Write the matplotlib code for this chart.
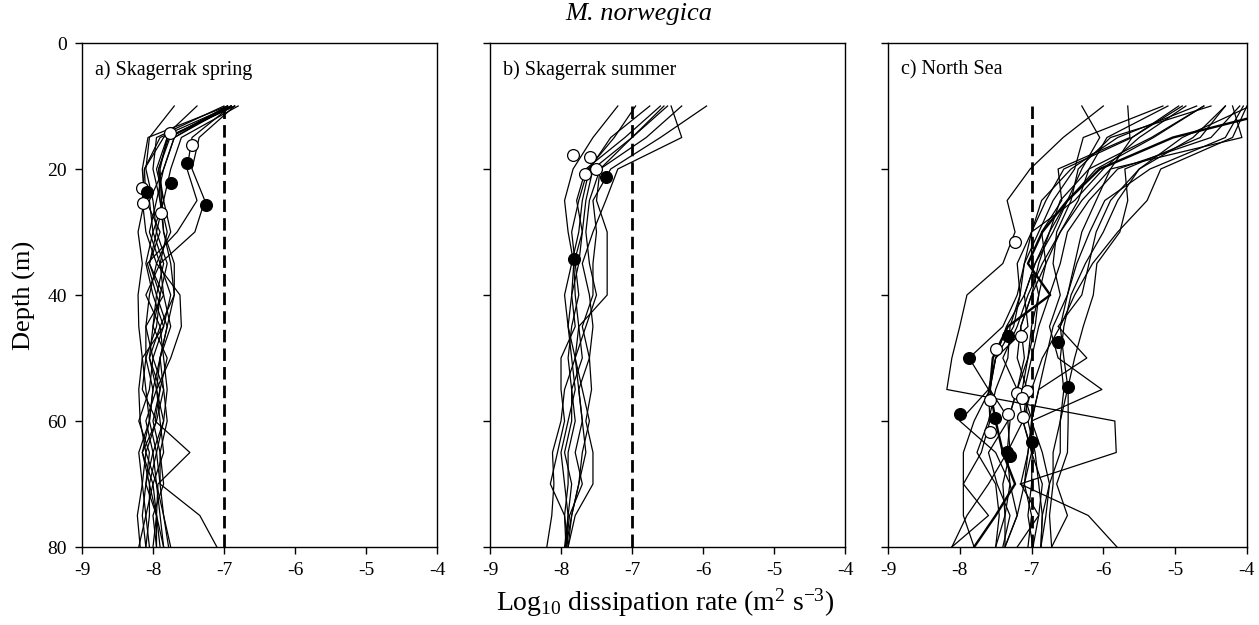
import matplotlib
matplotlib.use("Agg")
import matplotlib.pyplot as plt

plt.rcParams.update(
    {
        "font.family": ["Liberation Serif", "DejaVu Serif"],
        "mathtext.fontset": "custom",
        "mathtext.rm": "Liberation Serif",
        "mathtext.it": "Liberation Serif:italic",
        "axes.unicode_minus": False,
        "axes.linewidth": 1.0,
        "xtick.direction": "out",
        "ytick.direction": "out",
    }
)

# depth levels of each profile (m)
depth = [10, 15, 20, 25, 30, 35, 40, 45, 50, 55, 60, 65, 70, 75, 80]

# a) Skagerrak spring, log10 dissipation rate per profile
spring_profiles = [
    [-6.95, -8.07, -8.15, -8.12, -8.21, -8.15, -8.21, -8.20, -8.15, -8.20, -8.18, -8.10, -8.15, -8.22, -8.18],
    [-7.70, -8.05, -8.10, -8.00, -7.95, -8.05, -7.90, -7.95, -8.10, -8.00, -8.05, -8.15, -8.00, -8.10, -8.05],
    [-6.90, -7.80, -7.95, -7.85, -8.00, -7.85, -7.95, -7.80, -7.90, -7.95, -7.85, -7.95, -8.05, -7.95, -7.95],
    [-6.85, -7.78, -7.92, -7.90, -7.80, -7.90, -7.75, -7.85, -8.00, -7.85, -7.95, -8.10, -7.95, -7.90, -7.85],
    [-6.95, -7.76, -7.92, -7.85, -7.75, -7.95, -7.62, -7.60, -7.75, -7.95, -7.90, -7.85, -8.00, -7.95, -7.90],
    [-6.90, -7.45, -7.52, -7.38, -7.66, -8.08, -7.95, -8.00, -8.05, -7.90, -7.97, -7.48, -7.93, -7.95, -7.85],
    [-6.85, -7.35, -7.45, -7.27, -7.41, -7.90, -7.85, -7.75, -7.90, -8.00, -8.05, -7.95, -7.90, -7.34, -7.10],
    [-7.38, -7.85, -8.12, -8.15, -8.10, -7.95, -8.05, -8.10, -8.00, -8.05, -8.20, -8.05, -8.10, -8.15, -8.10],
    [-6.80, -7.60, -7.75, -7.85, -7.95, -7.80, -7.90, -8.00, -7.80, -7.90, -8.00, -7.90, -7.85, -8.00, -7.95],
    [-6.95, -7.70, -7.85, -7.95, -8.05, -7.90, -8.10, -7.90, -8.05, -7.95, -8.10, -8.00, -8.10, -7.95, -8.00],
    [-6.90, -7.90, -8.12, -8.10, -7.90, -8.05, -7.85, -8.10, -8.10, -8.15, -7.95, -8.15, -8.05, -8.05, -8.10],
    [-7.00, -7.95, -8.00, -7.90, -7.85, -7.70, -7.70, -7.90, -7.85, -7.80, -7.85, -8.00, -7.95, -7.85, -7.75],
    [-6.90, -7.70, -7.85, -8.05, -8.00, -8.10, -8.00, -7.85, -8.15, -8.10, -8.05, -8.20, -8.15, -8.10, -8.20],
    [-6.85, -7.80, -7.90, -7.88, -7.85, -7.75, -7.70, -7.80, -7.90, -7.85, -7.80, -7.90, -7.90, -7.85, -7.78],
]
spring_open_x = [-7.76, -7.45, -8.15, -8.14, -7.89]
spring_open_depth = [14.3, 16.2, 23.0, 25.4, 27.0]
spring_filled_x = [-7.52, -7.75, -8.08, -7.25]
spring_filled_depth = [19.0, 22.2, 23.7, 25.7]

# b) Skagerrak summer
summer_profiles = [
    [-7.20, -7.55, -7.83, -7.95, -7.90, -7.82, -7.85, -7.90, -7.80, -7.95, -8.00, -8.12, -8.10, -8.13, -8.20],
    [-6.75, -7.30, -7.60, -7.70, -7.75, -7.85, -7.95, -7.90, -7.85, -7.80, -7.90, -8.00, -7.95, -7.90, -7.93],
    [-6.55, -7.00, -7.55, -7.65, -7.70, -7.82, -7.80, -7.75, -7.70, -7.85, -7.80, -7.90, -7.90, -7.95, -7.93],
    [-6.45, -6.30, -7.20, -7.37, -7.55, -7.70, -7.60, -7.55, -7.60, -7.75, -7.70, -7.65, -7.75, -7.85, -7.93],
    [-5.95, -6.60, -7.30, -7.55, -7.50, -7.55, -7.55, -7.70, -7.60, -7.57, -7.65, -7.55, -7.55, -7.80, -7.90],
    [-6.30, -6.80, -7.45, -7.60, -7.65, -7.60, -7.50, -7.65, -7.80, -7.75, -7.70, -7.80, -7.70, -7.88, -7.93],
    [-6.95, -7.25, -7.62, -7.75, -7.85, -7.80, -7.75, -7.85, -7.90, -7.85, -7.85, -7.95, -7.85, -7.90, -7.95],
    [-6.60, -7.10, -7.65, -7.78, -7.70, -7.75, -7.85, -7.80, -8.00, -8.00, -7.95, -8.05, -8.15, -7.95, -7.90],
    [-6.50, -7.00, -7.45, -7.50, -7.35, -7.35, -7.35, -7.75, -7.80, -7.70, -7.60, -7.70, -7.75, -7.85, -7.90],
]
summer_open_x = [-7.83, -7.59, -7.66, -7.51]
summer_open_depth = [17.8, 18.1, 20.8, 20.0]
summer_filled_x = [-7.37, -7.82]
summer_filled_depth = [21.3, 34.3]

# c) North Sea
north_profiles = [
    [-6.00, -6.56, -7.02, -7.34, -7.23, -7.40, -7.90, -8.00, -8.11, -8.18, -5.84, -5.82, -7.16, -6.21, -5.81],
    [-4.90, -5.60, -5.90, -6.10, -6.30, -6.40, -6.50, -6.60, -6.55, -6.49, -6.49, -6.50, -6.65, -6.50, -6.72],
    [-4.05, -4.30, -5.35, -5.98, -6.19, -6.37, -6.50, -6.70, -6.80, -6.90, -7.00, -6.85, -6.75, -6.80, -6.87],
    [-4.10, -4.50, -5.80, -6.20, -6.50, -6.60, -6.75, -6.90, -7.00, -7.10, -7.05, -6.95, -6.90, -6.85, -6.87],
    [-5.66, -5.63, -6.63, -6.58, -6.86, -6.80, -7.00, -7.15, -7.20, -7.06, -7.12, -7.00, -7.10, -7.20, -7.37],
    [-5.17, -6.28, -6.40, -6.70, -6.90, -7.10, -7.16, -7.30, -7.33, -7.50, -7.60, -7.76, -7.50, -7.45, -7.50],
    [-4.60, -5.33, -6.20, -6.60, -6.75, -6.95, -7.10, -7.05, -7.50, -7.58, -7.80, -7.95, -7.95, -7.60, -8.11],
    [-4.20, -4.07, -5.90, -6.30, -6.60, -6.80, -6.90, -6.95, -7.05, -7.20, -7.33, -7.30, -7.40, -7.37, -7.50],
    [-4.50, -5.90, -6.35, -6.45, -6.65, -6.70, -6.60, -6.75, -6.63, -6.02, -7.00, -7.05, -7.15, -6.90, -7.20],
    [-3.95, -4.90, -5.50, -5.80, -6.00, -6.25, -6.45, -6.55, -6.60, -6.55, -6.60, -6.60, -6.75, -6.85, -6.87],
    [-4.30, -4.65, -5.70, -5.66, -5.77, -6.09, -6.14, -6.28, -6.40, -6.50, -6.60, -6.70, -6.70, -6.75, -6.72],
    [-6.30, -6.05, -6.30, -6.50, -6.75, -6.90, -7.00, -7.15, -7.10, -7.20, -7.33, -7.60, -7.48, -7.30, -7.40],
    [-4.00, -4.20, -5.20, -5.39, -5.80, -6.15, -6.40, -6.60, -6.85, -7.00, -7.12, -6.99, -7.00, -7.05, -6.98],
    [-4.85, -5.50, -6.00, -6.40, -7.00, -7.20, -7.16, -7.25, -7.50, -7.60, -7.58, -7.70, -7.95, -7.95, -7.80],
    [-5.10, -5.95, -6.20, -6.35, -6.60, -6.85, -7.05, -7.20, -7.40, -7.20, -7.12, -7.34, -7.30, -7.20, -7.37],
    [-4.30, -4.75, -5.50, -5.90, -6.10, -6.20, -6.30, -6.63, -6.23, -6.90, -7.00, -7.00, -6.85, -6.90, -6.98],
    [-4.70, -5.80, -6.45, -6.86, -7.00, -7.10, -7.20, -7.40, -7.87, -7.60, -8.00, -7.50, -7.30, -7.37, -7.37],
    [-4.60, -5.30, -6.10, -6.50, -6.70, -6.95, -7.10, -7.35, -7.50, -7.58, -7.30, -7.34, -7.60, -7.90, -8.11],
    [-4.95, -5.60, -6.55, -6.80, -7.00, -7.00, -6.90, -7.00, -7.05, -7.13, -6.99, -7.05, -7.10, -7.00, -7.05],
]
north_mean = [-3.30, -5.03, -6.05, -6.50, -6.85, -7.05, -6.74, -7.33, -7.54, -7.58, -7.50, -7.40, -7.23, -7.50, -7.80]
north_open_x = [-7.23, -7.15, -7.50, -7.20, -7.06, -7.13, -7.58, -7.33, -7.12, -7.58]
north_open_depth = [31.6, 46.5, 48.6, 55.5, 55.2, 56.4, 56.7, 58.9, 59.3, 61.8]
north_filled_x = [-7.33, -6.63, -7.87, -6.49, -8.00, -7.51, -6.99, -7.34, -7.30]
north_filled_depth = [46.5, 47.5, 50.0, 54.6, 58.9, 59.5, 63.4, 64.9, 65.6]

threshold = -7.0
panel_titles = ["a) Skagerrak spring", "b) Skagerrak summer", "c) North Sea"]

fig = plt.figure(figsize=(12.59, 6.25), dpi=100)
boxes = [
    [0.0651, 0.1248, 0.2820, 0.8064],
    [0.3892, 0.1248, 0.2820, 0.8064],
    [0.7053, 0.1248, 0.2851, 0.8064],
]
panels = [
    (spring_profiles, None, spring_open_x, spring_open_depth, spring_filled_x, spring_filled_depth),
    (summer_profiles, None, summer_open_x, summer_open_depth, summer_filled_x, summer_filled_depth),
    (north_profiles, north_mean, north_open_x, north_open_depth, north_filled_x, north_filled_depth),
]

for i, (box, panel, title) in enumerate(zip(boxes, panels, panel_titles)):
    profiles, mean, ox, od, fx, fd = panel
    ax = fig.add_axes(box)
    for prof in profiles:
        ax.plot(prof, depth, color="black", lw=0.9, zorder=2)
    if mean is not None:
        ax.plot(mean, depth, color="black", lw=1.7, zorder=2)
    ax.plot([threshold, threshold], [depth[0], depth[-1]], color="black", lw=2.0,
            linestyle=(0, (4.5, 2.2)), zorder=3)
    ax.plot(ox, od, "o", ms=8.5, mfc="white", mec="black", mew=0.9, zorder=4)
    ax.plot(fx, fd, "o", ms=8.5, mfc="black", mec="black", mew=0.9, zorder=4)

    ax.set_xlim(-9, -4)
    ax.set_ylim(80, 0)
    ax.set_xticks([-9, -8, -7, -6, -5, -4])
    ax.set_yticks([0, 20, 40, 60, 80])
    ax.tick_params(axis="both", labelsize=14, length=5, width=1.0, pad=6)
    if i > 0:
        ax.set_yticklabels([])
    else:
        ax.set_ylabel("Depth (m)", fontsize=19, labelpad=8)
    ax.text(0.037, 0.946, title, transform=ax.transAxes, fontsize=14.5,
            ha="left", va="center")

fig.text(0.507, 0.978, "M. norwegica", fontsize=19, style="italic", ha="center", va="center")
fig.text(0.528, 0.035, r"Log$_{10}$ dissipation rate (m$^{2}$ s$^{-3}$)", fontsize=20,
         ha="center", va="center")

fig.savefig("out.png", dpi=100)
